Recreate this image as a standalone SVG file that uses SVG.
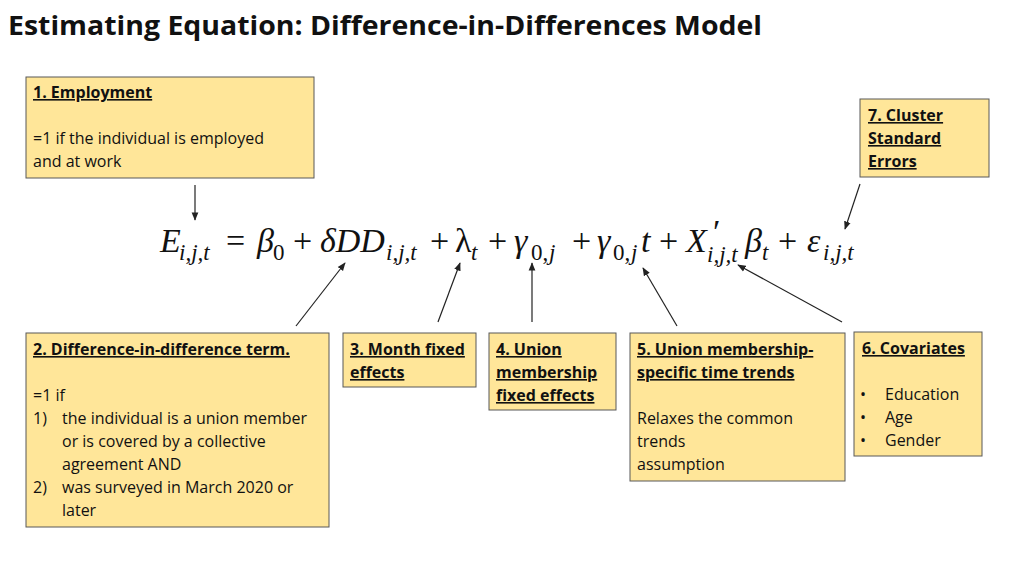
<svg xmlns="http://www.w3.org/2000/svg" width="1024" height="576" viewBox="0 0 1024 576">
<style>
.box{fill:#FFE699;stroke:#595959;stroke-width:1}
.t{font-family:"Open Sans",sans-serif;font-size:16px;fill:#111}
.h{font-weight:bold;text-decoration:underline}
.eq{font-family:"Liberation Serif",serif;font-style:italic;font-size:34px;fill:#111}
.eqn{font-family:"Liberation Serif",serif;font-size:34px;fill:#111}
.sub{font-family:"Liberation Serif",serif;font-style:italic;font-size:23px;fill:#111}
.subn{font-family:"Liberation Serif",serif;font-size:23px;fill:#111}
.c{stroke:#222;stroke-width:1.2;fill:none;marker-end:url(#a)}
</style>
<defs><marker id="a" viewBox="0 0 10 10" refX="9" refY="5" markerWidth="7" markerHeight="7" orient="auto"><path d="M0,1 L10,5 L0,9 z" fill="#222"/></marker></defs>
<rect width="1024" height="576" fill="#fff"/>
<text x="8" y="35" font-family="Open Sans,sans-serif" font-weight="bold" font-size="27" fill="#111" textLength="754" lengthAdjust="spacingAndGlyphs">Estimating Equation: Difference-in-Differences Model</text>
<g id="equation">
<text class="eq" x="160" y="252">E</text><text class="sub" x="179" y="260">i,j,t</text>
<text class="eqn" x="226" y="252">=</text>
<text class="eq" x="257" y="252">β</text><text class="subn" x="273" y="260">0</text>
<text class="eqn" x="293" y="252">+</text>
<text class="eq" x="320" y="252">δDD</text><text class="sub" x="386" y="260">i,j,t</text>
<text class="eqn" x="430" y="252">+</text>
<text class="eqn" x="455" y="252">λ</text><text class="sub" x="471" y="260">t</text>
<text class="eqn" x="488" y="252">+</text>
<text class="eq" x="514" y="252">γ</text><text class="subn" x="531" y="260">0,</text><text class="sub" x="549" y="260">j</text>
<text class="eqn" x="572" y="252">+</text>
<text class="eq" x="597" y="252">γ</text><text class="subn" x="613" y="260">0,</text><text class="sub" x="631" y="260">j</text><text class="eq" x="641" y="252">t</text>
<text class="eqn" x="659" y="252">+</text>
<text class="eq" x="686" y="252">X</text><text class="eqn" x="713" y="243" font-size="20">′</text><text class="sub" x="707" y="262">i,j,t</text>
<text class="eq" x="745" y="252">β</text><text class="sub" x="762" y="260">t</text>
<text class="eqn" x="778" y="252">+</text>
<text class="eq" x="807" y="252">ε</text><text class="sub" x="823" y="260">i,j,t</text>
</g>
<g id="connectors">
<line class="c" x1="195" y1="185" x2="195" y2="220"/>
<line class="c" x1="296" y1="326" x2="345" y2="263"/>
<line class="c" x1="438" y1="322" x2="460" y2="263"/>
<line class="c" x1="532" y1="322" x2="532" y2="263"/>
<line class="c" x1="677" y1="326" x2="643" y2="268"/>
<line class="c" x1="842" y1="322" x2="738" y2="265"/>
<line class="c" x1="860" y1="184" x2="845" y2="229"/>
</g>
<g id="n1"><rect class="box" x="26" y="77" width="288" height="101"/>
<text class="t h" x="33" y="98">1. Employment</text>
<text class="t" x="33" y="144">=1 if the individual is employed</text>
<text class="t" x="33" y="167">and at work</text></g>
<g id="n7"><rect class="box" x="860" y="99" width="129" height="78"/>
<text class="t h" x="868" y="121">7. Cluster</text>
<text class="t h" x="868" y="144">Standard</text>
<text class="t h" x="868" y="167">Errors</text></g>
<g id="n2"><rect class="box" x="26" y="333" width="303" height="194"/>
<text class="t h" x="33" y="355">2. Difference-in-difference term.</text>
<text class="t" x="33" y="401">=1 if</text>
<text class="t" x="33" y="424">1)</text><text class="t" x="62" y="424">the individual is a union member</text>
<text class="t" x="62" y="447">or is covered by a collective</text>
<text class="t" x="62" y="470">agreement AND</text>
<text class="t" x="33" y="493">2)</text><text class="t" x="62" y="493">was surveyed in March 2020 or</text>
<text class="t" x="62" y="516">later</text></g>
<g id="n3"><rect class="box" x="343" y="333" width="133" height="54"/>
<text class="t h" x="350" y="355">3. Month fixed</text>
<text class="t h" x="350" y="378">effects</text></g>
<g id="n4"><rect class="box" x="489" y="333" width="127" height="77"/>
<text class="t h" x="496" y="355">4. Union</text>
<text class="t h" x="496" y="378">membership</text>
<text class="t h" x="496" y="401">fixed effects</text></g>
<g id="n5"><rect class="box" x="630" y="333" width="215" height="148"/>
<text class="t h" x="637" y="355">5. Union membership-</text>
<text class="t h" x="637" y="378">specific time trends</text>
<text class="t" x="637" y="424">Relaxes the common</text>
<text class="t" x="637" y="447">trends</text>
<text class="t" x="637" y="470">assumption</text></g>
<g id="n6"><rect class="box" x="854" y="332" width="128" height="124"/>
<text class="t h" x="862" y="354">6. Covariates</text>
<text class="t" x="860" y="400">•</text><text class="t" x="885" y="400">Education</text>
<text class="t" x="860" y="423">•</text><text class="t" x="885" y="423">Age</text>
<text class="t" x="860" y="446">•</text><text class="t" x="885" y="446">Gender</text></g>
</svg>
